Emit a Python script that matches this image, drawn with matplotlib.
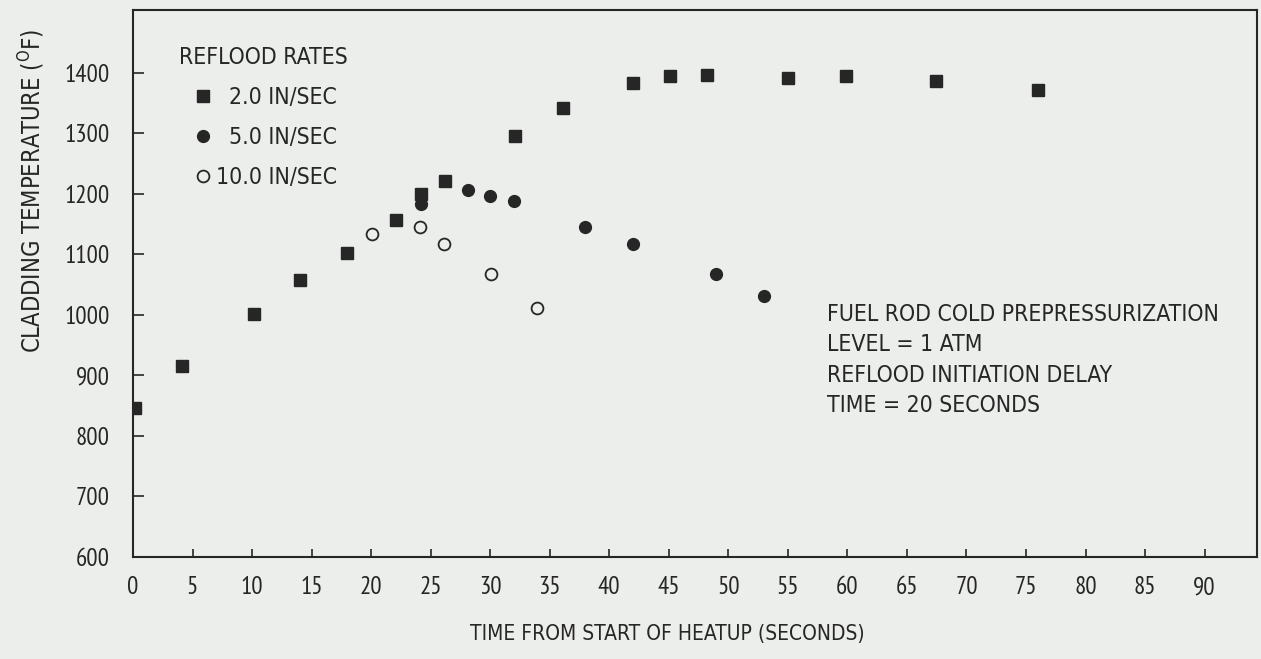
import matplotlib
matplotlib.use('Agg')
import matplotlib.pyplot as plt
from matplotlib.font_manager import FontProperties

# reflood rate 2.0 in/sec (filled squares)
t_2in = [0.2, 4.1, 10.2, 14.0, 18.0, 22.1, 24.2, 26.2, 32.1, 36.1, 42.0, 45.1, 48.2, 55.0, 59.9, 67.4, 76.0]
T_2in = [846, 915, 1002, 1057, 1102, 1157, 1200, 1222, 1296, 1342, 1384, 1395, 1396, 1391, 1395, 1387, 1372]

# reflood rate 5.0 in/sec (filled circles)
t_5in = [24.2, 28.1, 30.0, 32.0, 38.0, 42.0, 49.0, 53.0]
T_5in = [1183, 1207, 1196, 1188, 1146, 1118, 1068, 1031]

# reflood rate 10.0 in/sec (open circles)
t_10in = [20.1, 24.1, 26.1, 30.1, 33.9]
T_10in = [1133, 1146, 1118, 1067, 1011]

xticks = list(range(0, 95, 5))
yticks = list(range(600, 1500, 100))

note = 'FUEL ROD COLD PREPRESSURIZATION\nLEVEL = 1 ATM\nREFLOOD INITIATION DELAY\nTIME = 20 SECONDS'

# narrow digits for the tick labels, condensed DejaVu for the words
plt.rcParams['font.family'] = ['PT Sans Narrow', 'DejaVu Sans']
plt.rcParams['mathtext.fontset'] = 'custom'
plt.rcParams['mathtext.rm'] = 'DejaVu Sans:stretch=condensed'

def words(size):
    return FontProperties(family='DejaVu Sans', stretch='condensed', size=size)

ink = '#262626'
paper = '#eceeeb'

fig = plt.figure(figsize=(12.61, 6.59), dpi=100, facecolor=paper)
ax = fig.add_axes([133 / 1261, 1 - 557 / 659, 1124 / 1261, 547 / 659])
ax.set_facecolor(paper)

ax.plot(t_2in, T_2in, 's', ms=8, color=ink, mec=ink, ls='none', label='  2.0 IN/SEC')
ax.plot(t_5in, T_5in, 'o', ms=8.5, color=ink, mec=ink, ls='none', label='  5.0 IN/SEC')
ax.plot(t_10in, T_10in, 'o', ms=8.5, mfc='none', mec=ink, mew=1.3, ls='none', label='10.0 IN/SEC')

ax.set_xlim(0, 94.4)
ax.set_ylim(600, 1504)
ax.set_xticks(xticks)
ax.set_yticks(yticks)
ax.tick_params(axis='y', direction='in', length=8, width=1.2, pad=17, labelsize=18, colors=ink)
ax.tick_params(axis='x', direction='in', length=6, width=1.2, pad=14, labelsize=18, colors=ink)
for s in ax.spines.values():
    s.set_color(ink)
    s.set_linewidth(1.5)

leg = ax.legend(title='REFLOOD RATES', loc='upper left', bbox_to_anchor=(0.041, 0.935),
                frameon=False, prop=words(16.5), title_fontproperties=words(16.5),
                borderpad=0, borderaxespad=0,
                handlelength=2.07, handletextpad=-0.45, labelspacing=0.75, alignment='left')
for txt in leg.get_texts():
    txt.set_color(ink)
leg.get_title().set_color(ink)

ax.text(0.617, 0.465, note, transform=ax.transAxes, ha='left', va='top',
        fontproperties=words(16.5), linespacing=1.42, color=ink)

fig.text(667 / 1261, 1 - 634 / 659, 'TIME FROM START OF HEATUP (SECONDS)',
         ha='center', va='center', fontproperties=words(15), color=ink)
fig.text(32 / 1261, 1 - 191 / 659, r'CLADDING TEMPERATURE ($^{\mathrm{O}}$F)',
         ha='center', va='center', rotation=90, fontproperties=words(17), color=ink)

fig.savefig('out.png', dpi=100, facecolor=paper)
plt.close()
